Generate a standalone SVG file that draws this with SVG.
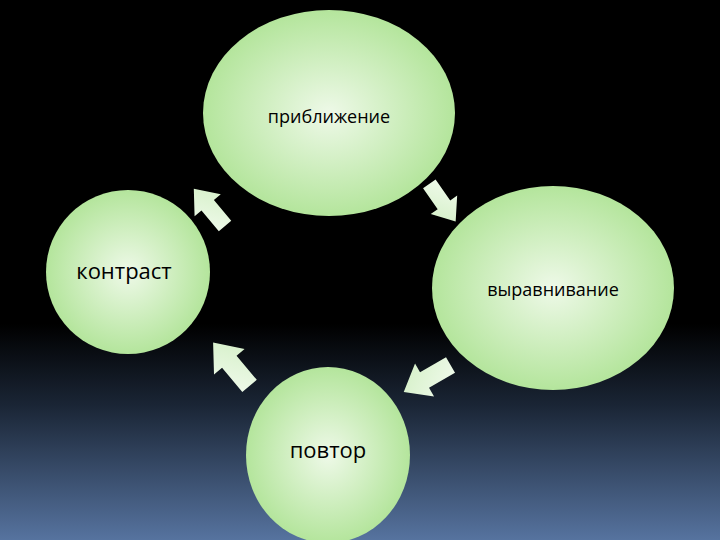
<svg xmlns="http://www.w3.org/2000/svg" width="720" height="540" viewBox="0 0 720 540">
<defs>
<linearGradient id="bg" x1="0" y1="0" x2="0" y2="1">
<stop offset="0" stop-color="#000"/><stop offset="0.6" stop-color="#000"/><stop offset="0.75" stop-color="#1a2535"/><stop offset="1" stop-color="#56739f"/>
</linearGradient>
<radialGradient id="g" cx="0.5" cy="0.5" r="0.5">
<stop offset="0" stop-color="#eef9e8"/><stop offset="1" stop-color="#b4e59c"/>
</radialGradient>
<linearGradient id="a" x1="0" y1="0" x2="1" y2="1">
<stop offset="0" stop-color="#f2fbee"/><stop offset="1" stop-color="#d2efc4"/>
</linearGradient>
<polygon id="arr" points="-26,-9 4,-9 4,-19 28,0 4,19 4,9 -26,9"/>
</defs>
<style>
.n{fill:url(#g)}
.t{font-family:"Open Sans","DejaVu Sans",sans-serif;fill:#000}
.ar{fill:url(#a)}
</style>
<rect width="720" height="540" fill="url(#bg)"/>
<g id="n1"><ellipse class="n" cx="329" cy="113" rx="126" ry="103"/><text class="t" x="329" y="123" font-size="18" text-anchor="middle">приближение</text></g>
<g id="n2"><ellipse class="n" cx="553" cy="288" rx="121" ry="102"/><text class="t" x="553" y="296" font-size="18" text-anchor="middle">выравнивание</text></g>
<g id="n3"><ellipse class="n" cx="328" cy="455" rx="82" ry="88"/><text class="t" x="328" y="458" font-size="22" text-anchor="middle">повтор</text></g>
<g id="n4"><ellipse class="n" cx="128" cy="272" rx="82" ry="82"/><text class="t" x="124" y="279" font-size="22" text-anchor="middle">контраст</text></g>
<g id="connectors">
<use href="#arr" class="ar" transform="translate(210,208) rotate(-130) scale(0.9)"/>
<use href="#arr" class="ar" transform="translate(442,202) rotate(55) scale(0.85)"/>
<use href="#arr" class="ar" transform="translate(428,378) rotate(150) scale(1)"/>
<use href="#arr" class="ar" transform="translate(232,365) rotate(-130) scale(1.05)"/>
</g>
</svg>
